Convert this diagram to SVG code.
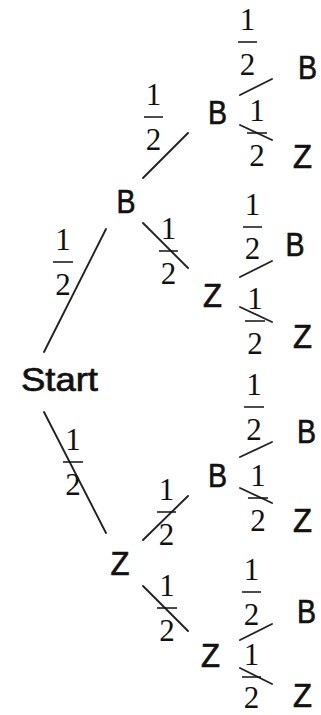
<svg xmlns="http://www.w3.org/2000/svg" width="321" height="715" viewBox="0 0 321 715">
<style>
.n{font-family:"Liberation Sans","DejaVu Sans",sans-serif;font-size:34px;fill:#111;stroke:#111;stroke-width:0.7;text-anchor:middle}
.f{font-family:"Liberation Serif","Times New Roman",serif;font-size:31px;fill:#111;text-anchor:middle}
.e{stroke:#222;stroke-width:1.9;fill:none;stroke-linecap:round}
.bar{stroke:#111;stroke-width:1.5}
</style>
<rect width="321" height="715" fill="#fff"/>
<g id="connectors">
  <g id="e-start-b1"><line class="e" x1="44" y1="352" x2="106" y2="229"/><text class="f" x="63" y="250">1</text><line class="bar" x1="53" y1="262" x2="73" y2="262"/><text class="f" x="63" y="295">2</text></g>
  <g id="e-start-z1"><line class="e" x1="44" y1="412" x2="106" y2="533"/><text class="f" x="73" y="450">1</text><line class="bar" x1="63" y1="462" x2="83" y2="462"/><text class="f" x="73" y="495">2</text></g>
  <g id="e-b1-b2"><line class="e" x1="143" y1="178" x2="188" y2="133"/><text class="f" x="153.5" y="105">1</text><line class="bar" x1="144" y1="117" x2="163" y2="117"/><text class="f" x="153.5" y="150">2</text></g>
  <g id="e-b1-z2"><line class="e" x1="143" y1="223" x2="188" y2="268"/><text class="f" x="168.5" y="239">1</text><line class="bar" x1="159" y1="251" x2="178" y2="251"/><text class="f" x="168.5" y="284">2</text></g>
  <g id="e-b2-b"><line class="e" x1="240" y1="95" x2="272" y2="79"/><text class="f" x="247.5" y="30">1</text><line class="bar" x1="238" y1="42" x2="257" y2="42"/><text class="f" x="247.5" y="75">2</text></g>
  <g id="e-b2-z"><line class="e" x1="240" y1="125" x2="272" y2="140"/><text class="f" x="257" y="121">1</text><line class="bar" x1="247" y1="133" x2="267" y2="133"/><text class="f" x="257" y="166">2</text></g>
  <g id="e-z2-b"><line class="e" x1="240" y1="277" x2="272" y2="261"/><text class="f" x="252.5" y="215">1</text><line class="bar" x1="243" y1="227" x2="262" y2="227"/><text class="f" x="252.5" y="259">2</text></g>
  <g id="e-z2-z"><line class="e" x1="240" y1="307" x2="272" y2="322"/><text class="f" x="255" y="309">1</text><line class="bar" x1="245" y1="321" x2="265" y2="321"/><text class="f" x="255" y="354">2</text></g>
  <g id="e-z1-b3"><line class="e" x1="143" y1="540" x2="188" y2="496"/><text class="f" x="166.5" y="500">1</text><line class="bar" x1="157" y1="512" x2="176" y2="512"/><text class="f" x="166.5" y="545">2</text></g>
  <g id="e-z1-z3"><line class="e" x1="143" y1="586" x2="188" y2="631"/><text class="f" x="167" y="596">1</text><line class="bar" x1="157" y1="608" x2="177" y2="608"/><text class="f" x="167" y="641">2</text></g>
  <g id="e-b3-b"><line class="e" x1="240" y1="457" x2="272" y2="442"/><text class="f" x="254" y="395">1</text><line class="bar" x1="244" y1="407" x2="264" y2="407"/><text class="f" x="254" y="440">2</text></g>
  <g id="e-b3-z"><line class="e" x1="240" y1="488" x2="272" y2="503"/><text class="f" x="258" y="486">1</text><line class="bar" x1="248" y1="498" x2="268" y2="498"/><text class="f" x="258" y="531">2</text></g>
  <g id="e-z3-b"><line class="e" x1="240" y1="640" x2="272" y2="624"/><text class="f" x="251.5" y="580">1</text><line class="bar" x1="242" y1="592" x2="261" y2="592"/><text class="f" x="251.5" y="625">2</text></g>
  <g id="e-z3-z"><line class="e" x1="240" y1="668" x2="272" y2="684"/><text class="f" x="251.5" y="665">1</text><line class="bar" x1="242" y1="677" x2="261" y2="677"/><text class="f" x="251.5" y="708">2</text></g>
</g>
<g id="start"><text class="n" x="59.5" y="391" textLength="77" lengthAdjust="spacingAndGlyphs">Start</text></g>
<g id="b1"><text class="n" x="126" y="213" textLength="19" lengthAdjust="spacingAndGlyphs">B</text></g>
<g id="z1"><text class="n" x="120" y="575" textLength="19" lengthAdjust="spacingAndGlyphs">Z</text></g>
<g id="b2"><text class="n" x="217.5" y="124" textLength="19" lengthAdjust="spacingAndGlyphs">B</text></g>
<g id="z2"><text class="n" x="212.5" y="307" textLength="19" lengthAdjust="spacingAndGlyphs">Z</text></g>
<g id="b3"><text class="n" x="217.5" y="487" textLength="19" lengthAdjust="spacingAndGlyphs">B</text></g>
<g id="z3"><text class="n" x="210.5" y="667" textLength="19" lengthAdjust="spacingAndGlyphs">Z</text></g>
<g id="leaf-bb"><text class="n" x="307.5" y="79" textLength="19" lengthAdjust="spacingAndGlyphs">B</text></g>
<g id="leaf-bz"><text class="n" x="302.5" y="168" textLength="19" lengthAdjust="spacingAndGlyphs">Z</text></g>
<g id="leaf-zb"><text class="n" x="295" y="256" textLength="19" lengthAdjust="spacingAndGlyphs">B</text></g>
<g id="leaf-zz"><text class="n" x="302.5" y="348" textLength="19" lengthAdjust="spacingAndGlyphs">Z</text></g>
<g id="leaf-b3b"><text class="n" x="306.5" y="443" textLength="19" lengthAdjust="spacingAndGlyphs">B</text></g>
<g id="leaf-b3z"><text class="n" x="302.5" y="532" textLength="19" lengthAdjust="spacingAndGlyphs">Z</text></g>
<g id="leaf-z3b"><text class="n" x="306.5" y="623" textLength="19" lengthAdjust="spacingAndGlyphs">B</text></g>
<g id="leaf-z3z"><text class="n" x="302.5" y="707" textLength="19" lengthAdjust="spacingAndGlyphs">Z</text></g>
</svg>
